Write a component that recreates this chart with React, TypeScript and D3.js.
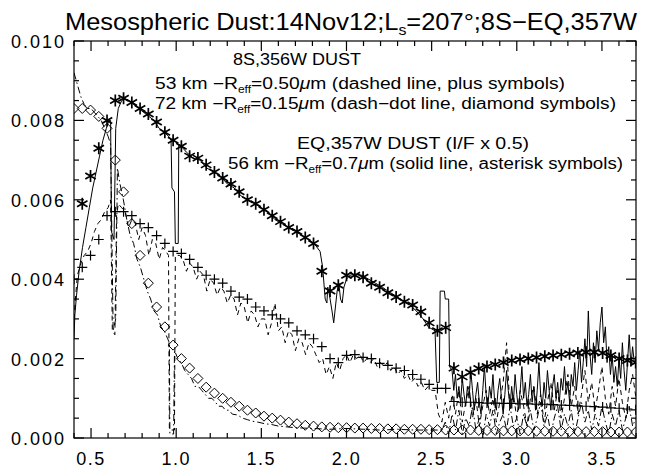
import React from 'react';
import * as d3 from 'd3';

const W = 646, H = 470;
const PL = 74, PR = 636, PT = 41, PB = 438;

const xDomain = [0.4, 3.7];
const yDomain = [0, 0.010];
const xMajor = [0.5, 1.0, 1.5, 2.0, 2.5, 3.0, 3.5];
const xTickLabels = ['0.5', '1.0', '1.5', '2.0', '2.5', '3.0', '3.5'];
const yMajor = [0, 0.002, 0.004, 0.006, 0.008, 0.010];
const yTickLabels = ['0.000', '0.002', '0.004', '0.006', '0.008', '0.010'];

// EQ,357W spectrum (I/F x 0.5), solid line
const solidMain: [number, number][] = [
  [0.400, 0.0025], [0.405, 0.0031], [0.415, 0.0036], [0.43, 0.0042], [0.45, 0.0048], [0.47, 0.0053],
  [0.49, 0.0058], [0.51, 0.0063], [0.53, 0.0067], [0.55, 0.0071], [0.57, 0.0075], [0.59, 0.0078],
  [0.605, 0.0080], [0.615, 0.0080], [0.62, 0.0052], [0.635, 0.0050], [0.645, 0.0078], [0.66, 0.0083],
  [0.68, 0.0085], [0.70, 0.00855], [0.72, 0.0085], [0.75, 0.0084], [0.78, 0.0083], [0.81, 0.0082],
  [0.84, 0.0081], [0.87, 0.0080], [0.90, 0.0078], [0.93, 0.0077], [0.955, 0.0076], [0.97, 0.0075],
  [0.975, 0.0063], [0.99, 0.0062], [0.995, 0.0049], [1.012, 0.0049], [1.015, 0.0074], [1.04, 0.0073],
  [1.06, 0.0072], [1.10, 0.00705], [1.14, 0.0070], [1.18, 0.0068], [1.22, 0.0067], [1.26, 0.0066],
  [1.30, 0.0064], [1.34, 0.0063], [1.38, 0.0061], [1.42, 0.0060], [1.46, 0.0059], [1.50, 0.0058],
  [1.54, 0.0057], [1.58, 0.0055], [1.62, 0.0054], [1.66, 0.0053], [1.70, 0.0052], [1.74, 0.0051],
  [1.78, 0.0050], [1.81, 0.0049], [1.845, 0.0047], [1.86, 0.0043], [1.875, 0.0035], [1.885, 0.0034],
  [1.89, 0.0038], [1.90, 0.0036], [1.915, 0.0032], [1.925, 0.0029], [1.935, 0.0033], [1.945, 0.0037],
  [1.955, 0.0039], [1.965, 0.0035], [1.975, 0.0034], [1.985, 0.0038], [2.0, 0.0040], [2.02, 0.0041],
  [2.05, 0.00412], [2.09, 0.0041], [2.13, 0.0040], [2.17, 0.0039], [2.21, 0.0038], [2.25, 0.00368],
  [2.29, 0.00358], [2.33, 0.00346], [2.37, 0.00336], [2.41, 0.0032], [2.45, 0.0030], [2.48, 0.0028],
  [2.52, 0.0027], [2.53, 0.0014], [2.545, 0.0014], [2.55, 0.0037], [2.575, 0.0037], [2.58, 0.0035],
  [2.60, 0.0035], [2.605, 0.0018],
];
const solidNoiseStart = 2.62;
const solidNoiseStep = 0.01;
const solidNoise = [
  0.0017, 0.0012, 0.0016, 0.0010, 0.0013, 0.0009, 0.0015, 0.0011, 0.0008, 0.0013,
  0.0010, 0.0017, 0.0012, 0.0007, 0.0011, 0.0014, 0.0009, 0.0006, 0.0012, 0.0018,
  0.0011, 0.0008, 0.0013, 0.0010, 0.0016, 0.0009, 0.0007, 0.0012, 0.0015, 0.0010,
  0.0006, 0.0011, 0.0017, 0.0012, 0.0008, 0.0013, 0.0009, 0.0016, 0.0011, 0.0007,
  0.0012, 0.0018, 0.0010, 0.0014, 0.0008, 0.0011, 0.0016, 0.0009, 0.0013, 0.0007,
  0.0012, 0.0019, 0.0011, 0.0008, 0.0014, 0.0010, 0.0017, 0.0012, 0.0007, 0.0013,
  0.0016, 0.0010, 0.0014, 0.0009, 0.0015, 0.0012, 0.0018, 0.0011, 0.0014, 0.0009,
  0.0016, 0.0013, 0.0019, 0.0012, 0.0017, 0.0022, 0.0014, 0.0019, 0.0025, 0.0018,
  0.0032, 0.0021, 0.0016, 0.0024, 0.0019, 0.0027, 0.0022, 0.0029, 0.0033, 0.0024,
  0.0028, 0.0019, 0.0023, 0.0016, 0.0021, 0.0014, 0.0018, 0.0013, 0.0020, 0.0015,
  0.0024, 0.0017, 0.0012, 0.0019, 0.0026, 0.0018, 0.0023, 0.0019, 0.0019,
];

// 8S,356W 53 km spectrum, dashed line
const dashedMain: [number, number][] = [
  [0.40, 0.0030], [0.41, 0.0036], [0.42, 0.0041], [0.44, 0.0044], [0.46, 0.0046], [0.48, 0.0047],
  [0.50, 0.0049], [0.52, 0.0052], [0.54, 0.0054], [0.56, 0.0055], [0.58, 0.0057], [0.60, 0.0058],
  [0.615, 0.0060], [0.625, 0.0027], [0.64, 0.0026], [0.65, 0.0056], [0.66, 0.0059], [0.68, 0.0058],
  [0.70, 0.0057], [0.72, 0.0053], [0.74, 0.0055], [0.76, 0.0054], [0.78, 0.0050], [0.80, 0.0053],
  [0.82, 0.0051], [0.84, 0.0046], [0.86, 0.0050], [0.88, 0.0049], [0.90, 0.0045], [0.92, 0.0048],
  [0.94, 0.0047], [0.955, 0.0046], [0.96, 0.0002], [0.99, 0.0002], [0.995, 0.0046], [1.02, 0.0046],
  [1.04, 0.0045], [1.06, 0.0042], [1.08, 0.0044], [1.10, 0.0043], [1.12, 0.0040], [1.14, 0.0042],
  [1.16, 0.0041], [1.18, 0.0037], [1.20, 0.0040], [1.22, 0.0039], [1.24, 0.0036], [1.26, 0.0038],
  [1.28, 0.0037], [1.30, 0.0034], [1.32, 0.0036], [1.34, 0.0035], [1.36, 0.0031], [1.38, 0.0034],
  [1.40, 0.0033], [1.42, 0.0029], [1.44, 0.0032], [1.46, 0.0031], [1.48, 0.0028], [1.50, 0.0030],
  [1.52, 0.0030], [1.54, 0.0026], [1.56, 0.0029], [1.58, 0.0034], [1.60, 0.0027], [1.62, 0.0028],
  [1.64, 0.0024], [1.66, 0.0027], [1.68, 0.0026], [1.70, 0.0022], [1.72, 0.0025], [1.74, 0.0024],
  [1.76, 0.0021], [1.78, 0.0024], [1.80, 0.0023], [1.82, 0.0021], [1.84, 0.0019], [1.86, 0.0020],
  [1.88, 0.0016], [1.90, 0.0018], [1.92, 0.0015], [1.94, 0.0019], [1.96, 0.0017], [1.98, 0.0020],
  [2.00, 0.0021], [2.02, 0.0019], [2.04, 0.0021], [2.06, 0.0020], [2.08, 0.0021], [2.10, 0.0019],
  [2.12, 0.0020], [2.14, 0.0019], [2.16, 0.0020], [2.18, 0.0018], [2.20, 0.0019], [2.22, 0.0018],
  [2.24, 0.0019], [2.26, 0.0017], [2.28, 0.0018], [2.30, 0.0016], [2.32, 0.0017], [2.34, 0.0015],
  [2.36, 0.0016], [2.38, 0.0014], [2.40, 0.0015], [2.42, 0.0013], [2.44, 0.0014], [2.46, 0.0012],
  [2.48, 0.0013], [2.50, 0.0012], [2.52, 0.0012], [2.54, 0.0006], [2.56, 0.0004], [2.58, 0.0009],
  [2.60, 0.0005],
];
const dashedNoiseStart = 2.62;
const dashedNoiseStep = 0.02;
const dashedNoise = [
  0.0011, 0.0006, 0.0012, 0.0004, 0.0009, 0.0013, 0.0005, 0.0010, 0.0003, 0.0008,
  0.0012, 0.0006, 0.0010, 0.0004, 0.0009, 0.0014, 0.0024, 0.0007, 0.0011, 0.0005,
  0.0012, 0.0008, 0.0003, 0.0010, 0.0013, 0.0006, 0.0011, 0.0004, 0.0009, 0.0014,
  0.0007, 0.0012, 0.0005, 0.0010, 0.0016, 0.0008, 0.0013, 0.0006, 0.0011, 0.0017,
  0.0009, 0.0014, 0.0007, 0.0012, 0.0018, 0.0010, 0.0006, 0.0013, 0.0008, 0.0015,
  0.0009, 0.0005, 0.0012, 0.0016, 0.0010,
];

// 8S,356W 72 km spectrum, dash-dot line
const dashDotMain: [number, number][] = [
  [0.40, 0.0092], [0.42, 0.0089], [0.44, 0.0086], [0.46, 0.0084], [0.48, 0.0083], [0.50, 0.0083],
  [0.52, 0.0082], [0.54, 0.0081], [0.56, 0.0080], [0.58, 0.0078], [0.60, 0.0076], [0.615, 0.0074],
  [0.63, 0.0027], [0.645, 0.0030], [0.655, 0.0068], [0.67, 0.0064], [0.69, 0.0060], [0.71, 0.0055],
  [0.73, 0.0051], [0.75, 0.0049], [0.77, 0.0045], [0.79, 0.0043], [0.81, 0.0040], [0.83, 0.0037],
  [0.85, 0.0035], [0.87, 0.0032], [0.89, 0.0031], [0.91, 0.0028], [0.93, 0.0027], [0.95, 0.0025],
  [0.96, 0.0024], [0.963, 0.0001], [0.985, 0.0001], [0.99, 0.0022], [1.01, 0.0020], [1.03, 0.0019],
  [1.05, 0.0017], [1.07, 0.0016], [1.09, 0.0015], [1.11, 0.0013], [1.13, 0.0013], [1.15, 0.0012],
  [1.17, 0.0011], [1.19, 0.0010], [1.21, 0.0010], [1.23, 0.0009], [1.25, 0.0008], [1.27, 0.0008],
  [1.29, 0.0007], [1.31, 0.0007], [1.33, 0.0006], [1.36, 0.00058], [1.39, 0.0005], [1.42, 0.00046],
  [1.45, 0.00042], [1.48, 0.0004], [1.52, 0.00036], [1.56, 0.00034], [1.60, 0.0003], [1.65, 0.00028],
  [1.70, 0.00026], [1.75, 0.00025], [1.80, 0.00024], [1.90, 0.00022], [2.00, 0.00024], [2.10, 0.00022],
  [2.20, 0.0002], [2.30, 0.00022], [2.40, 0.0002], [2.50, 0.0002], [2.56, 0.0002],
];
const dashDotNoiseStart = 2.58;
const dashDotNoiseStep = 0.02;
const dashDotNoise = [
  0.0004, 0.0001, 0.0006, 0.0002, 0.0007, 0.0001, 0.0005, 0.0003, 0.0008, 0.0002,
  0.0005, 0.0000, 0.0006, 0.0003, 0.0007, 0.0001, 0.0004, 0.0006, 0.0002, 0.0008,
  0.0003, 0.0005, 0.0001, 0.0006, 0.0003, 0.0007, 0.0002, 0.0005, 0.0009, 0.0003,
  0.0006, 0.0001, 0.0005, 0.0008, 0.0002, 0.0006, 0.0003, 0.0007, 0.0001, 0.0005,
  0.0009, 0.0004, 0.0007, 0.0002, 0.0006, 0.0003, 0.0008, 0.0004, 0.0001, 0.0006,
  0.0003, 0.0007, 0.0002, 0.0005, 0.0008, 0.0003, 0.0005,
];

// symbol grid (smoothed spectra)
const symStart = 0.4;
const symStep = 0.0485;
const asteriskVals = [ // grid index 1..68
  0.0059, 0.0066, 0.0073, 0.0080, 0.0085, 0.00856, 0.00845, 0.0083, 0.00816, 0.00796,
  0.0077, 0.0075, 0.00735, 0.0071, 0.00705, 0.00688, 0.0067, 0.00655, 0.0064, 0.0062,
  0.0060, 0.0059, 0.00575, 0.0056, 0.00545, 0.0053, 0.0052, 0.00505, 0.0049, 0.0042,
  0.0037, 0.00385, 0.0041, 0.0041, 0.00405, 0.0039, 0.0038, 0.00366, 0.00355, 0.00343,
  0.00335, 0.00318, 0.0029, 0.0027, 0.00278, 0.00176, 0.00154, 0.00165, 0.00175, 0.0018,
  0.00185, 0.0019, 0.00195, 0.00198, 0.002, 0.00203, 0.00206, 0.00208, 0.0021, 0.00212,
  0.00214, 0.00216, 0.00216, 0.00214, 0.00208, 0.002, 0.00195, 0.0019,
];
const plusVals = [ // grid index 0..68
  0.0040, 0.0043, 0.0046, 0.0050, 0.0056, 0.0057, 0.0057, 0.0056, 0.0054, 0.0053,
  0.0051, 0.0049, 0.0047, 0.00465, 0.0045, 0.0043, 0.0041, 0.0040, 0.0039, 0.0037,
  0.00355, 0.0035, 0.0033, 0.0032, 0.0031, 0.0030, 0.0029, 0.0027, 0.0026, 0.0025,
  0.0023, 0.0020, 0.0019, 0.00208, 0.0021, 0.00203, 0.002, 0.00188, 0.00183, 0.00176,
  0.0017, 0.0016, 0.00148, 0.00135, 0.00125, 0.00125, 0.00092, 0.0009, 0.0009, 0.00089,
  0.00088, 0.00088, 0.00087, 0.00087, 0.00086, 0.00086, 0.00085, 0.00085, 0.00084, 0.00083,
  0.00082, 0.00081, 0.0008, 0.00079, 0.00078, 0.00076, 0.00075, 0.00073, 0.00071,
];
const diamondVals = [ // grid index 0..68
  0.0083, 0.0083, 0.00826, 0.0081, 0.0078, 0.0070, 0.0062, 0.0054, 0.0046, 0.0039,
  0.0033, 0.0028, 0.00234, 0.0020, 0.00176, 0.0015, 0.00128, 0.00113, 0.0010, 0.0009,
  0.0008, 0.0007, 0.00063, 0.00055, 0.0005, 0.00045, 0.0004, 0.00036, 0.00032, 0.0003,
  0.00028, 0.00027, 0.00026, 0.00026, 0.00025, 0.00025, 0.00024, 0.00024, 0.00023, 0.00023,
  0.00022, 0.00022, 0.00022, 0.00021, 0.00021, 0.0002, 0.0002, 0.0002, 0.0002, 0.00019,
  0.00019, 0.00019, 0.00018, 0.00018, 0.00018, 0.00018, 0.00017, 0.00017, 0.00017, 0.00017,
  0.00016, 0.00016, 0.00016, 0.00016, 0.00016, 0.00015, 0.00015, 0.00015, 0.00015,
];

const FONT = '"Liberation Sans", Arial, sans-serif';

export default function App() {
  const x = d3.scaleLinear().domain(xDomain).range([PL, PR]);
  const y = d3.scaleLinear().domain(yDomain).range([PB, PT]);
  const line = d3.line<[number, number]>().x(d => x(d[0])).y(d => y(d[1]));

  const grid = (start: number, step: number, vals: number[], offset = 0): [number, number][] =>
    vals.map((v, i) => [start + (i + offset) * step, v]);

  const solid = [...solidMain, ...grid(solidNoiseStart, solidNoiseStep, solidNoise)];
  const dashed = [...dashedMain, ...grid(dashedNoiseStart, dashedNoiseStep, dashedNoise)];
  const dashDot = [...dashDotMain, ...grid(dashDotNoiseStart, dashDotNoiseStep, dashDotNoise)];
  const asterisks = grid(symStart, symStep, asteriskVals, 1);
  const pluses = grid(symStart, symStep, plusVals);
  const diamonds = grid(symStart, symStep, diamondVals);

  const xMinor = d3.range(4, 38).map(i => i / 10);
  const yMinor = d3.range(0, 21).map(i => i * 0.0005);

  const r = 5;
  const ra = 6;
  const astPath = (cx: number, cy: number) =>
    `M${cx},${cy - ra}L${cx},${cy + ra}M${cx - ra * 0.87},${cy - ra * 0.5}L${cx + ra * 0.87},${cy + ra * 0.5}` +
    `M${cx - ra * 0.87},${cy + ra * 0.5}L${cx + ra * 0.87},${cy - ra * 0.5}`;
  const plusPath = (cx: number, cy: number) =>
    `M${cx - r},${cy}L${cx + r},${cy}M${cx},${cy - r}L${cx},${cy + r}`;
  const diamPath = (cx: number, cy: number) =>
    `M${cx},${cy - r}L${cx + r},${cy}L${cx},${cy + r}L${cx - r},${cy}Z`;

  return (
    <svg width={W} height={H} style={{ position: 'absolute', left: 0, top: 0, background: '#fff' }}
      fontFamily={FONT}>
      <defs>
        <clipPath id="plot">
          <rect x={PL} y={PT} width={PR - PL} height={PB - PT} />
        </clipPath>
      </defs>
      <rect x={0} y={0} width={W} height={H} fill="#fff" />

      {/* title */}
      <text x={65} y={30} fontSize={24} textLength={572} lengthAdjust="spacingAndGlyphs">
        Mesospheric Dust:14Nov12;L<tspan dy={5} fontSize={15}>s</tspan><tspan dy={-5}>=207°;8S−EQ,357W</tspan>
      </text>

      <g clipPath="url(#plot)" fill="none" stroke="#000">
        <path d={line(dashDot) || ''} strokeWidth={1} strokeDasharray="7,3,1.5,3" />
        <path d={line(dashed) || ''} strokeWidth={1} strokeDasharray="5,4" />
        <path d={line(solid) || ''} strokeWidth={1} />
        {diamonds.map((d, i) => <path key={'d' + i} d={diamPath(x(d[0]), y(d[1]))} strokeWidth={1} />)}
        {pluses.map((d, i) => <path key={'p' + i} d={plusPath(x(d[0]), y(d[1]))} strokeWidth={1.2} />)}
        {asterisks.map((d, i) => <path key={'a' + i} d={astPath(x(d[0]), y(d[1]))} strokeWidth={1.7} />)}
      </g>

      {/* frame and ticks */}
      <g stroke="#000" strokeWidth={1.2} fill="none">
        <rect x={PL} y={PT} width={PR - PL} height={PB - PT} />
        {xMinor.map((v, i) => {
          const major = xMajor.some(m => Math.abs(m - v) < 1e-6);
          const L = major ? 10 : 5;
          return <g key={'xt' + i}>
            <line x1={x(v)} x2={x(v)} y1={PB} y2={PB - L} />
            <line x1={x(v)} x2={x(v)} y1={PT} y2={PT + L} />
          </g>;
        })}
        {yMinor.map((v, i) => {
          const major = yMajor.some(m => Math.abs(m - v) < 1e-9);
          const L = major ? 10 : 5;
          return <g key={'yt' + i}>
            <line x1={PL} x2={PL + L} y1={y(v)} y2={y(v)} />
            <line x1={PR} x2={PR - L} y1={y(v)} y2={y(v)} />
          </g>;
        })}
      </g>

      {/* tick labels */}
      <g fontSize={18} fill="#000">
        {xMajor.map((v, i) => (
          <text key={'xl' + i} x={x(v)} y={465} textAnchor="middle" letterSpacing={1.5}>{xTickLabels[i]}</text>
        ))}
        {yMajor.map((v, i) => (
          <text key={'yl' + i} x={66} y={y(v) + 7} textAnchor="end" letterSpacing={2}>{yTickLabels[i]}</text>
        ))}
      </g>

      {/* annotations */}
      <g fontSize={16} fill="#000">
        <text x={233} y={65} textLength={128} lengthAdjust="spacingAndGlyphs">8S,356W DUST</text>
        <text x={155} y={89} textLength={410} lengthAdjust="spacingAndGlyphs">
          53 km −R<tspan dy={4} fontSize={10}>eff</tspan><tspan dy={-4}>=0.50</tspan><tspan fontStyle="italic">μ</tspan>m (dashed line, plus symbols)
        </text>
        <text x={155} y={109} textLength={461} lengthAdjust="spacingAndGlyphs">
          72 km −R<tspan dy={4} fontSize={10}>eff</tspan><tspan dy={-4}>=0.15</tspan><tspan fontStyle="italic">μ</tspan>m (dash−dot line, diamond symbols)
        </text>
        <text x={297} y={149} textLength={232} lengthAdjust="spacingAndGlyphs">EQ,357W DUST (I/F x 0.5)</text>
        <text x={228} y={169} textLength={395} lengthAdjust="spacingAndGlyphs">
          56 km −R<tspan dy={4} fontSize={10}>eff</tspan><tspan dy={-4}>=0.7</tspan><tspan fontStyle="italic">μ</tspan>m (solid line, asterisk symbols)
        </text>
      </g>
    </svg>
  );
}
